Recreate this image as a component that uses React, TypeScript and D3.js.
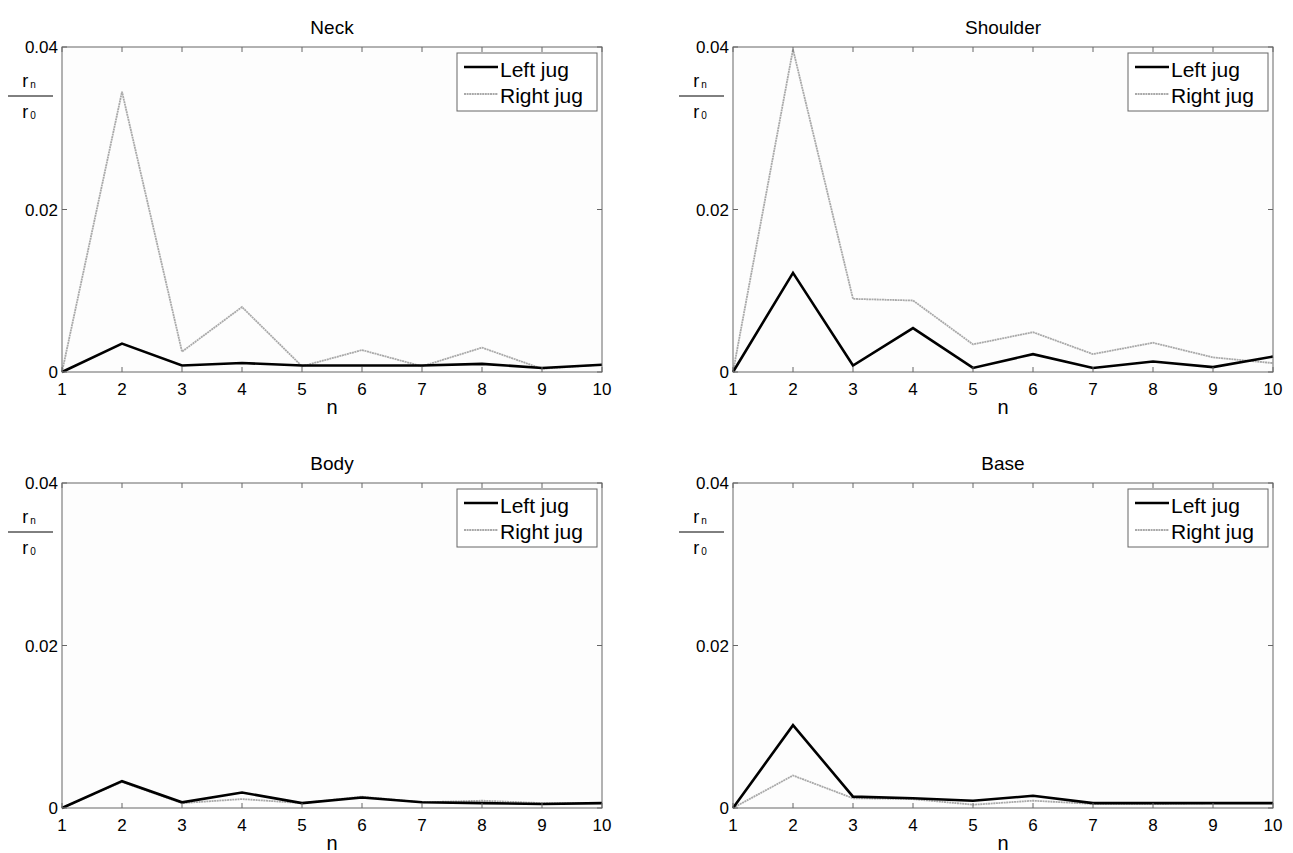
import React from "react";
import * as d3 from "d3";

const nValues = [1, 2, 3, 4, 5, 6, 7, 8, 9, 10];
const xTicks = [1, 2, 3, 4, 5, 6, 7, 8, 9, 10];
const yTicks = [0, 0.02, 0.04];
const yTickLabels = ["0", "0.02", "0.04"];
const panelTitles = ["Neck", "Shoulder", "Body", "Base"];
const seriesNames = ["Left jug", "Right jug"];

const neckLeft = [0, 0.0035, 0.0008, 0.0011, 0.0008, 0.0008, 0.0008, 0.001, 0.0005, 0.0009];
const neckRight = [0, 0.0345, 0.0025, 0.008, 0.0007, 0.0027, 0.0007, 0.003, 0.0004, 0.0009];
const shoulderLeft = [0, 0.0122, 0.0008, 0.0054, 0.0005, 0.0022, 0.0005, 0.0013, 0.0006, 0.0019];
const shoulderRight = [0, 0.0397, 0.009, 0.0088, 0.0034, 0.0049, 0.0022, 0.0036, 0.0018, 0.0011];
const bodyLeft = [0, 0.0033, 0.0007, 0.0019, 0.0006, 0.0013, 0.0007, 0.0006, 0.0005, 0.0006];
const bodyRight = [0, 0.0032, 0.0006, 0.0011, 0.0006, 0.0014, 0.0007, 0.0009, 0.0006, 0.0006];
const baseLeft = [0, 0.0102, 0.0014, 0.0012, 0.0009, 0.0015, 0.0006, 0.0006, 0.0006, 0.0006];
const baseRight = [0, 0.004, 0.0012, 0.0011, 0.0004, 0.0009, 0.0005, 0.0005, 0.0006, 0.0006];

const panelData = [
  [neckLeft, neckRight],
  [shoulderLeft, shoulderRight],
  [bodyLeft, bodyRight],
  [baseLeft, baseRight],
];

const W = 1293;
const H = 853;
const plotW = 540;
const plotH = 325;
const origins = [
  [62, 47],
  [733, 47],
  [62, 483],
  [733, 483],
];
const FONT = "Liberation Sans, Arial, sans-serif";
const AXIS = "#666";
const LEFT_COLOR = "#000";
const RIGHT_COLOR = "#a9a9a9";

function Panel({ idx }: { idx: number }) {
  const [ox, oy] = origins[idx];
  const x = d3.scaleLinear().domain([1, 10]).range([0, plotW]);
  const y = d3.scaleLinear().domain([0, 0.04]).range([plotH, 0]);
  const line = d3
    .line<number>()
    .x((_, i) => x(nValues[i]))
    .y((d) => y(d));
  const [left, right] = panelData[idx];
  const tickLen = 5;
  const lgW = 140;
  const lgH = 58;
  const lgX = plotW - 5 - lgW;
  const lgY = 6;
  return (
    <g transform={`translate(${ox},${oy})`}>
      <rect x={0} y={0} width={plotW} height={plotH} fill="#fdfdfd" />
      <text x={plotW / 2} y={-13} textAnchor="middle" fontSize={19} fontFamily={FONT}>
        {panelTitles[idx]}
      </text>
      <path d={line(right) || ""} fill="none" stroke={RIGHT_COLOR} strokeWidth={1.8} strokeDasharray="2 0.6" />
      <path d={line(left) || ""} fill="none" stroke={LEFT_COLOR} strokeWidth={2.6} />
      <rect x={0} y={0} width={plotW} height={plotH} fill="none" stroke={AXIS} strokeWidth={1} />
      {xTicks.map((t) => (
        <g key={"x" + t}>
          <line x1={x(t)} x2={x(t)} y1={plotH} y2={plotH - tickLen} stroke={AXIS} />
          <line x1={x(t)} x2={x(t)} y1={0} y2={tickLen} stroke={AXIS} />
          <text x={x(t)} y={plotH + 23} textAnchor="middle" fontSize={17} fontFamily={FONT}>
            {t}
          </text>
        </g>
      ))}
      {yTicks.map((t, i) => (
        <g key={"y" + t}>
          <line x1={0} x2={tickLen} y1={y(t)} y2={y(t)} stroke={AXIS} />
          <line x1={plotW} x2={plotW - tickLen} y1={y(t)} y2={y(t)} stroke={AXIS} />
          <text x={-4} y={y(t) + 6} textAnchor="end" fontSize={17} fontFamily={FONT}>
            {yTickLabels[i]}
          </text>
        </g>
      ))}
      <text x={plotW / 2} y={plotH + 42} textAnchor="middle" fontSize={20} fontFamily={FONT}>
        n
      </text>
      <g fontFamily={FONT}>
        <text x={-33} y={40} textAnchor="middle" fontSize={18}>
          r<tspan fontSize={10} dx={2} dy={1}>n</tspan>
        </text>
        <line x1={-54} x2={-9} y1={49} y2={49} stroke="#000" strokeWidth={1} />
        <text x={-33} y={71} textAnchor="middle" fontSize={18}>
          r<tspan fontSize={10} dx={2} dy={1}>0</tspan>
        </text>
      </g>
      <g transform={`translate(${lgX},${lgY})`}>
        <rect x={0} y={0} width={lgW} height={lgH} fill="#fff" stroke={AXIS} strokeWidth={1} />
        <line x1={7} x2={41} y1={14} y2={14} stroke={LEFT_COLOR} strokeWidth={2.6} />
        <line x1={7} x2={41} y1={41} y2={41} stroke={RIGHT_COLOR} strokeWidth={1.8} strokeDasharray="2 0.6" />
        <text x={43} y={24} fontSize={21} fontFamily={FONT}>
          {seriesNames[0]}
        </text>
        <text x={43} y={50} fontSize={21} fontFamily={FONT}>
          {seriesNames[1]}
        </text>
      </g>
    </g>
  );
}

export default function App() {
  return (
    <svg width={W} height={H} style={{ display: "block", position: "absolute", left: 0, top: 0 }}>
      <rect width={W} height={H} fill="#fff" />
      {[0, 1, 2, 3].map((i) => (
        <Panel key={i} idx={i} />
      ))}
    </svg>
  );
}
